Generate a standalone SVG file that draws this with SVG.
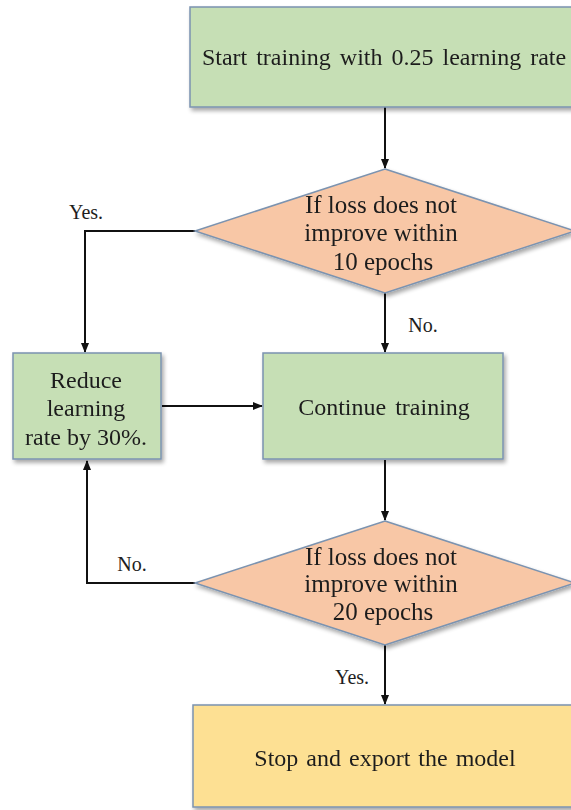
<svg xmlns="http://www.w3.org/2000/svg" width="571" height="810" viewBox="0 0 571 810">
<style>
.g{fill:#c6dfb5;stroke:#7b93b0;stroke-width:1.5}
.o{fill:#f8c7a6;stroke:#7b93b0;stroke-width:1.5}
.y{fill:#fde093;stroke:#7b93b0;stroke-width:1.5}
.t{font-family:"Liberation Serif",serif;font-size:24px;fill:#1e1e1e;text-anchor:middle}
.d{font-size:25px}
.l{font-family:"Liberation Serif",serif;font-size:20px;fill:#1e1e1e;text-anchor:middle}
.c{fill:none;stroke:#111;stroke-width:2}
</style>
<defs>
<marker id="a" markerWidth="10" markerHeight="10" refX="9" refY="5" orient="auto" markerUnits="userSpaceOnUse">
<path d="M0,1 L10,5 L0,9 Z" fill="#111"/>
</marker>
<filter id="s" x="-10%" y="-10%" width="130%" height="130%">
<feGaussianBlur in="SourceAlpha" stdDeviation="2"/>
<feOffset dx="2" dy="3"/>
<feComponentTransfer><feFuncA type="linear" slope="0.35"/></feComponentTransfer>
<feMerge><feMergeNode/><feMergeNode in="SourceGraphic"/></feMerge>
</filter>
</defs>
<rect width="571" height="810" fill="#fff"/>
<g id="connectors">
<path class="c" d="M385,107 V168" marker-end="url(#a)"/>
<path class="c" d="M195,231 H85 V352" marker-end="url(#a)"/>
<path class="c" d="M385,293 V352" marker-end="url(#a)"/>
<path class="c" d="M162,406 H262" marker-end="url(#a)"/>
<path class="c" d="M385,460 V520" marker-end="url(#a)"/>
<path class="c" d="M195,583 H87 V461" marker-end="url(#a)"/>
<path class="c" d="M385,645 V704" marker-end="url(#a)"/>
<text class="l" x="86" y="219">Yes.</text>
<text class="l" x="423" y="332">No.</text>
<text class="l" x="132" y="571">No.</text>
<text class="l" x="352" y="684">Yes.</text>
</g>
<g id="start" filter="url(#s)">
<rect class="g" x="190" y="7" width="395" height="100"/>
<text class="t" x="384" y="65" word-spacing="3">Start training with 0.25 learning rate</text>
</g>
<g id="check10" filter="url(#s)">
<polygon class="o" points="385,169 575,231 385,293 195,231"/>
<text class="t d" x="381" y="213">If loss does not</text>
<text class="t d" x="381" y="241">improve within</text>
<text class="t d" x="383" y="270">10 epochs</text>
</g>
<g id="reduce" filter="url(#s)">
<rect class="g" x="13" y="353" width="148" height="106"/>
<text class="t" x="86" y="388">Reduce</text>
<text class="t" x="86" y="416">learning</text>
<text class="t" x="86" y="445">rate by 30%.</text>
</g>
<g id="continue" filter="url(#s)">
<rect class="g" x="263" y="353" width="240" height="106"/>
<text class="t" x="384" y="415" word-spacing="3">Continue training</text>
</g>
<g id="check20" filter="url(#s)">
<polygon class="o" points="385,521 575,583 385,645 195,583"/>
<text class="t d" x="381" y="565">If loss does not</text>
<text class="t d" x="381" y="592">improve within</text>
<text class="t d" x="383" y="620">20 epochs</text>
</g>
<g id="stop" filter="url(#s)">
<rect class="y" x="193" y="705" width="390" height="102"/>
<text class="t" x="385" y="766" word-spacing="2">Stop and export the model</text>
</g>
</svg>
